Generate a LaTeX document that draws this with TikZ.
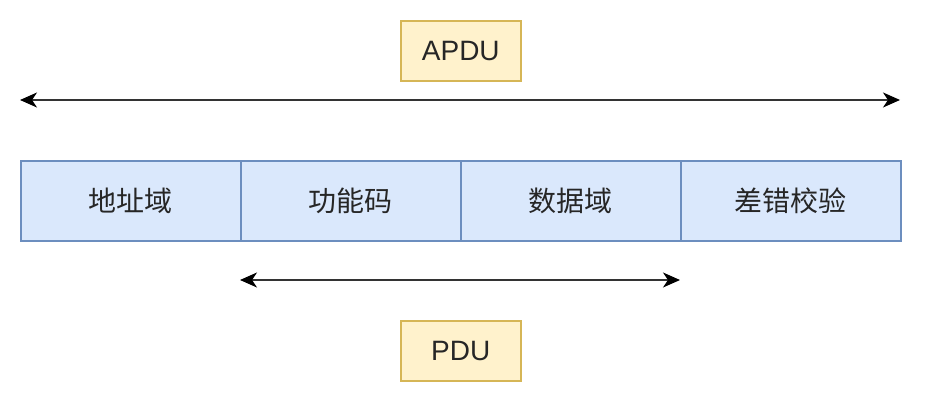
\documentclass[tikz,border=0pt]{standalone}
\usepackage{fontspec}
\setmainfont{Liberation Sans}
\newfontfamily\cjk{Noto Sans CJK SC}
\usetikzlibrary{arrows.meta}
\definecolor{bfill}{HTML}{DAE8FC}
\definecolor{bline}{HTML}{6C8EBF}
\definecolor{yfill}{HTML}{FFF2CC}
\definecolor{yline}{HTML}{D6B656}
\begin{document}
\begin{tikzpicture}[x=1pt,y=-1pt,
  field/.style={draw=bline,fill=bfill,line width=1.6pt,minimum width=220pt,minimum height=80pt,inner sep=0pt,anchor=north west,font=\fontsize{28}{32}\selectfont\cjk,text=black!85},
  tag/.style={draw=yline,fill=yfill,line width=1.6pt,minimum width=120pt,minimum height=60pt,inner sep=0pt,anchor=north west,font=\fontsize{28}{32}\selectfont,text=black!85},
  span/.style={line width=1.8pt,draw=black!80,{Stealth[length=17pt,width=15pt,inset=5pt,black]}-{Stealth[length=17pt,width=15pt,inset=5pt,black]}}]
\useasboundingbox (0,0) rectangle (952,414);
\node[field] (f1) at (20,160) {地址域};
\node[field] (f2) at (240,160) {功能码};
\node[field] (f3) at (460,160) {数据域};
\node[field] (f4) at (680,160) {差错校验};
\node[tag] (apdu) at (400,20) {APDU};
\node[tag] (pdu) at (400,320) {PDU};
\coordinate (a1) at (20,100);
\coordinate (a2) at (900,100);
\coordinate (p1) at (240,280);
\coordinate (p2) at (680,280);
\draw[span] (a1) -- (a2);
\draw[span] (p1) -- (p2);
\end{tikzpicture}
\end{document}
